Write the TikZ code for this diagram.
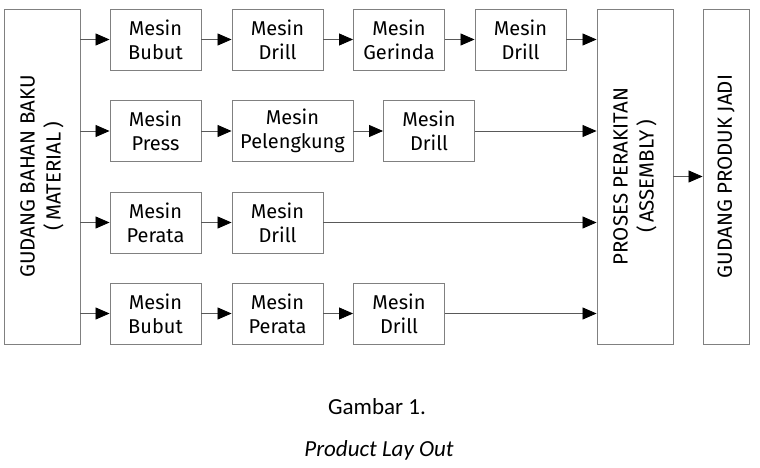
\documentclass[tikz,border=0pt]{standalone}
\usepackage{fontspec}
\setmainfont{Fira Sans}
\newfontfamily\capfont{Carlito}
\usetikzlibrary{positioning, arrows.meta}

\tikzset{
    mesin/.style={draw=gray, line width=0.9pt, minimum width=91pt, minimum height=61pt,
        inner sep=0pt, align=center, font=\fontsize{20}{24}\selectfont},
    gudang/.style={draw=gray, line width=0.9pt, rotate=90, minimum width=335pt,
        inner sep=0pt, align=center, font=\fontsize{20.5}{26}\selectfont},
    alur/.style={draw=black!65, line width=0.8pt, -{Triangle[length=14pt,width=12pt,black]}},
}

\begin{document}
\begin{tikzpicture}[x=1pt, y=-1pt]
    \useasboundingbox (0,0) rectangle (760,468);

    % gudang dan perakitan
    \node[gudang, minimum height=76pt] (bahan) at (42,176.5) {GUDANG BAHAN BAKU\\(\,MATERIAL\,)};
    \node[gudang, minimum height=76pt] (rakit) at (635,176.5) {PROSES PERAKITAN\\(\,ASSEMBLY\,)};
    \node[gudang, minimum height=46pt] (jadi) at (726,176.5) {GUDANG PRODUK JADI};

    % baris 1
    \node[mesin] (a1) at (155.5,39.5) {Mesin\\Bubut};
    \node[mesin] (a2) at (277.5,39.5) {Mesin\\Drill};
    \node[mesin] (a3) at (399,39.5) {Mesin\\Gerinda};
    \node[mesin] (a4) at (520.5,39.5) {Mesin\\Drill};
    % baris 2
    \node[mesin] (b1) at (155.5,131) {Mesin\\Press};
    \node[mesin, minimum width=121pt] (b2) at (292.5,131) {Mesin\\Pelengkung};
    \node[mesin] (b3) at (429,131) {Mesin\\Drill};
    % baris 3
    \node[mesin] (c1) at (155.5,222.5) {Mesin\\Perata};
    \node[mesin] (c2) at (277.5,222.5) {Mesin\\Drill};
    % baris 4
    \node[mesin] (d1) at (155.5,313.5) {Mesin\\Bubut};
    \node[mesin] (d2) at (277.5,313.5) {Mesin\\Perata};
    \node[mesin] (d3) at (399,313.5) {Mesin\\Drill};

    % panah
    \foreach \P in {a1,b1,c1,d1}
        \draw[alur] (bahan.south |- \P.west) -- (\P.west);
    \foreach \P/\Q in {a1/a2,a2/a3,a3/a4,b1/b2,b2/b3,c1/c2,d1/d2,d2/d3}
        \draw[alur] (\P) -- (\Q);
    \foreach \P in {a4,b3,c2,d3}
        \draw[alur] (\P.east) -- (rakit.north |- \P.east);
    \draw[alur] (rakit) -- (jadi);

    % keterangan
    \node[font=\capfont\fontsize{23}{26}\selectfont] (ket1) at (377,407) {Gambar 1.};
    \node[font=\capfont\itshape\fontsize{23}{26}\selectfont] (ket2) at (379,450) {Product Lay Out};
\end{tikzpicture}
\end{document}
